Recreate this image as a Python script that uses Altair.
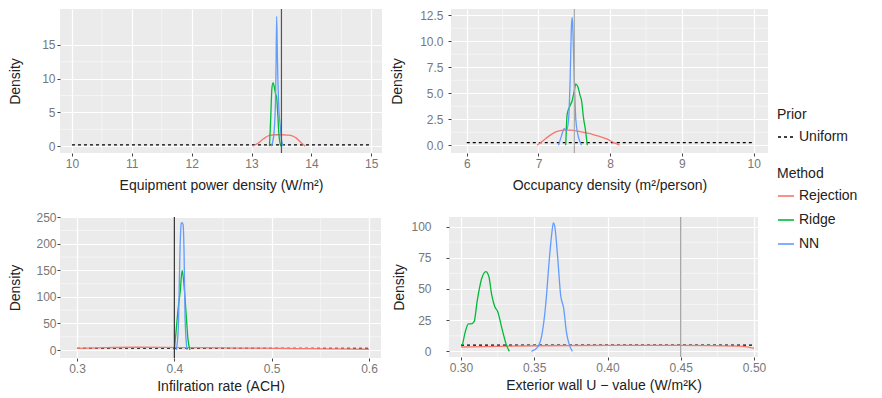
import altair as alt
import pandas as pd

METHODS = ["Rejection", "Ridge", "NN"]
COLORS = ["#F8766D", "#00BA38", "#619CFF"]

# ---- Panel 1: Equipment power density ----
rej1_x = [13.02, 13.10, 13.20, 13.30, 13.40, 13.50, 13.60, 13.68, 13.75, 13.82, 13.90]
rej1_y = [0.0, 0.4, 1.1, 1.6, 1.7, 1.7, 1.65, 1.55, 1.2, 0.6, 0.0]
ridge1_x = [13.30, 13.32, 13.34, 13.36, 13.38, 13.40, 13.42, 13.44, 13.46, 13.49]
ridge1_y = [0.0, 4.0, 8.5, 9.4, 8.8, 7.8, 7.2, 4.5, 1.5, 0.0]
nn1_x = [13.33, 13.37, 13.40, 13.41, 13.42, 13.43, 13.44, 13.46, 13.48, 13.50, 13.53]
nn1_y = [0.0, 1.5, 6.5, 12.0, 19.2, 14.5, 10.0, 5.0, 3.0, 1.0, 0.0]

# ---- Panel 2: Occupancy density ----
rej2_x = [6.98, 7.05, 7.15, 7.25, 7.35, 7.45, 7.55, 7.65, 7.75, 7.85, 7.95, 8.05, 8.13]
rej2_y = [0.0, 0.35, 0.9, 1.3, 1.45, 1.45, 1.35, 1.2, 1.05, 0.85, 0.6, 0.25, 0.0]
ridge2_x = [7.38, 7.40, 7.44, 7.47, 7.50, 7.52, 7.55, 7.58, 7.60, 7.63, 7.65, 7.68]
ridge2_y = [0.0, 3.0, 3.8, 4.3, 5.3, 5.9, 5.6, 4.8, 4.3, 2.5, 1.7, 0.0]
nn2_x = [7.28, 7.32, 7.36, 7.39, 7.42, 7.44, 7.46, 7.47, 7.48, 7.50, 7.52, 7.55, 7.58, 7.60]
nn2_y = [0.0, 0.9, 1.6, 1.4, 2.5, 6.0, 11.5, 12.3, 11.0, 6.0, 2.5, 1.0, 0.3, 0.0]

# ---- Panel 3: Infiltration rate ----
rej3_x = [0.30, 0.33, 0.36, 0.39, 0.42, 0.45, 0.48, 0.51, 0.54, 0.57, 0.60]
rej3_y = [3.0, 4.5, 5.2, 5.0, 4.5, 4.0, 3.5, 3.0, 2.5, 2.0, 1.5]
ridge3_x = [0.400, 0.402, 0.404, 0.406, 0.408, 0.410, 0.412, 0.414, 0.416]
ridge3_y = [0.0, 40.0, 80.0, 110.0, 150.0, 120.0, 70.0, 20.0, 0.0]
nn3_x = [0.402, 0.404, 0.406, 0.407, 0.408, 0.409, 0.410, 0.411, 0.413]
nn3_y = [0.0, 40.0, 200.0, 238.0, 240.0, 236.0, 180.0, 60.0, 0.0]

# ---- Panel 4: Exterior wall U-value ----
rej4_x = [0.30, 0.35, 0.40, 0.45, 0.49, 0.50]
rej4_y = [3.5, 4.5, 4.8, 4.8, 4.2, 2.5]
ridge4_x = [0.301, 0.303, 0.305, 0.307, 0.309, 0.311, 0.314, 0.317, 0.319, 0.321, 0.323, 0.325, 0.328, 0.331, 0.333]
ridge4_y = [5, 16, 22, 22, 24, 40, 58, 64, 60, 45, 36, 32, 18, 5, 0]
nn4_x = [0.348, 0.352, 0.355, 0.358, 0.360, 0.362, 0.363, 0.364, 0.366, 0.368, 0.370, 0.372, 0.374, 0.376]
nn4_y = [0, 3, 12, 40, 70, 95, 103, 100, 75, 45, 35, 15, 5, 0]

FONT = "Liberation Sans"


def midpoints(ticks):
    return [(a + b) / 2 for a, b in zip(ticks[:-1], ticks[1:])]


def axis(ticks, fmt, title, label_pad, title_pad):
    return alt.Axis(
        title=title,
        values=list(ticks),
        format=fmt,
        grid=True,
        gridColor="white",
        gridOpacity=1,
        gridWidth=1.2,
        tickColor="#444",
        tickSize=3,
        domain=False,
        labelColor="#777",
        labelFontSize=12,
        labelPadding=label_pad,
        titleFontSize=14,
        titleFontWeight="normal",
        titleColor="#222",
        titlePadding=title_pad,
        labelFont=FONT,
        titleFont=FONT,
        labelFlush=False,
        labelOverlap=False,
    )


def panel(curves, prior_lo, prior_hi, truth, truth_color, xdom, ydom,
          xticks, yticks, xfmt, yfmt, xtitle,
          width, height, xtp, ylp, ytp, show_legend=False):
    rows = []
    for m, (xs, ys) in curves.items():
        for x, y in zip(xs, ys):
            rows.append({"method": m, "x": x, "y": y})
    df = pd.DataFrame(rows)
    dens = 1.0 / (prior_hi - prior_lo)
    prior_df = pd.DataFrame({"x": [prior_lo, prior_hi], "y": [dens, dens],
                             "prior": ["Uniform", "Uniform"]})
    truth_df = pd.DataFrame({"x": [truth]})
    minor_x = pd.DataFrame({"x": midpoints(xticks)})
    minor_y = pd.DataFrame({"y": midpoints(yticks)})

    xenc = alt.X("x:Q", scale=alt.Scale(domain=xdom, nice=False, zero=False),
                 axis=axis(xticks, xfmt, xtitle, 2, xtp))
    yenc = alt.Y("y:Q", scale=alt.Scale(domain=ydom, nice=False, zero=False),
                 axis=axis(yticks, yfmt, "Density", ylp, ytp))

    common = dict(symbolType="stroke", symbolSize=256, labelFontSize=14, titleFontSize=14,
                  titleFontWeight="normal", labelFont=FONT, titleFont=FONT,
                  titleColor="#222", labelColor="#222", orient="none", padding=0,
                  rowPadding=8, titlePadding=6)
    if show_legend:
        dash_legend = alt.Legend(title="Prior", legendX=717, legendY=99,
                                 symbolStrokeWidth=1.3, symbolStrokeColor="black",
                                 symbolDash=[3, 3], **common)
        col_legend = alt.Legend(title="Method", legendX=717, legendY=158,
                                symbolStrokeWidth=1.6, **common)
    else:
        dash_legend = None
        col_legend = None

    minor_v = alt.Chart(minor_x).mark_rule(color="white", strokeWidth=0.5).encode(x=xenc)
    minor_h = alt.Chart(minor_y).mark_rule(color="white", strokeWidth=0.5).encode(y=yenc)
    prior = alt.Chart(prior_df).mark_line(color="black", strokeWidth=1.1, clip=True).encode(
        x=xenc, y=yenc,
        strokeDash=alt.StrokeDash("prior:N", scale=alt.Scale(domain=["Uniform"], range=[[3, 3]]),
                                  legend=dash_legend),
    )
    lines = alt.Chart(df).mark_line(strokeWidth=1.3, clip=True, interpolate="monotone").encode(
        x=xenc, y=yenc,
        color=alt.Color("method:N", scale=alt.Scale(domain=METHODS, range=COLORS), legend=col_legend),
        detail="method:N",
    )
    truth_rule = alt.Chart(truth_df).mark_rule(color=truth_color, strokeWidth=1.2).encode(x=xenc)
    return alt.layer(minor_v, minor_h, prior, lines, truth_rule).properties(width=width, height=height)


p1 = panel({"Rejection": (rej1_x, rej1_y), "Ridge": (ridge1_x, ridge1_y), "NN": (nn1_x, nn1_y)},
           10, 15, 13.5, "#555", [9.80, 15.18], [-1.0, 20.3],
           [10, 11, 12, 13, 14, 15], [0, 5, 10, 15], ".0f", ".0f",
           "Equipment power density (W/m²)", 322, 144, 9, 2, 19, show_legend=True)
p2 = panel({"Rejection": (rej2_x, rej2_y), "Ridge": (ridge2_x, ridge2_y), "NN": (nn2_x, nn2_y)},
           6, 10, 7.5, "#aaa", [5.78, 10.2], [-0.75, 13.1],
           [6, 7, 8, 9, 10], [0, 2.5, 5, 7.5, 10, 12.5], ".0f", ".1f",
           "Occupancy density (m²/person)", 317, 144, 9, 5, 15)
p3 = panel({"Rejection": (rej3_x, rej3_y), "Ridge": (ridge3_x, ridge3_y), "NN": (nn3_x, nn3_y)},
           0.3, 0.6, 0.4, "#333", [0.2825, 0.6123], [-15.0, 250.5],
           [0.3, 0.4, 0.5, 0.6], [0, 50, 100, 150, 200, 250], ".1f", ".0f",
           "Infilration rate (ACH)", 321, 141, 5, 1, 13)
p4 = panel({"Rejection": (rej4_x, rej4_y), "Ridge": (ridge4_x, ridge4_y), "NN": (nn4_x, nn4_y)},
           0.3, 0.5, 0.45, "#999", [0.2918, 0.5027], [-4.5, 107.7],
           [0.30, 0.35, 0.40, 0.45, 0.50], [0, 25, 50, 75, 100], ".2f", ".0f",
           "Exterior wall U − value (W/m²K)", 309, 140, 5, 15, 4)

row1 = alt.hconcat(p1, p2, spacing=7)
row2 = alt.hconcat(p3, p4, spacing=10)
chart = alt.vconcat(row1, row2, spacing=19).resolve_scale(
    color="shared", strokeDash="shared"
).properties(
    padding=0, background="white"
).configure(
    font=FONT
).configure_view(
    fill="#EBEBEB", stroke=None
)

chart.save("out.html", embed_options={"renderer": "svg", "actions": False})
